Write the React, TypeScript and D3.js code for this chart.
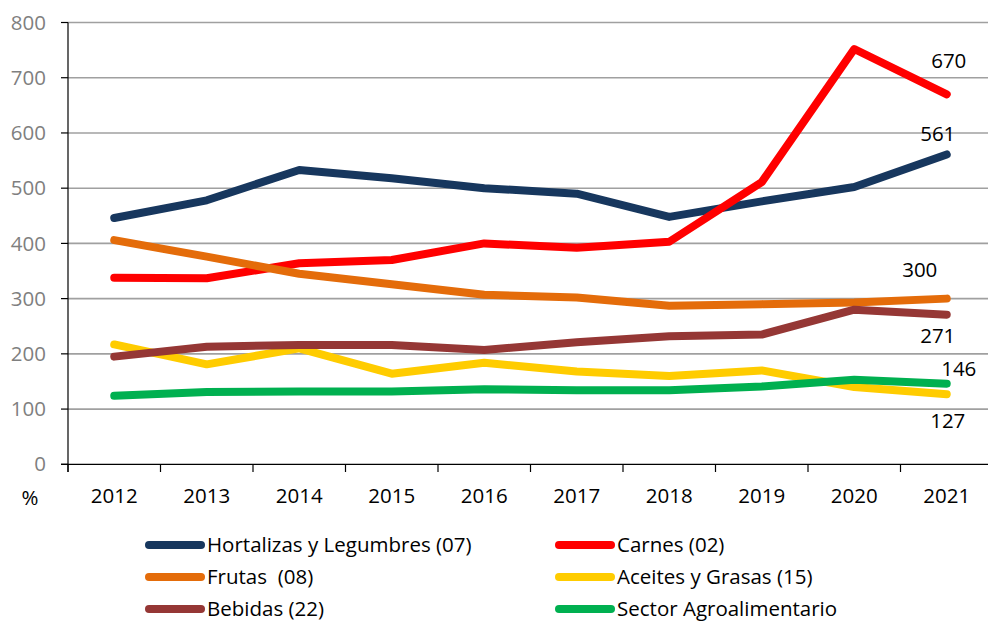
import React from "react";
import * as d3 from "d3";

const years = ["2012", "2013", "2014", "2015", "2016", "2017", "2018", "2019", "2020", "2021"];
const yTicks = [0, 100, 200, 300, 400, 500, 600, 700, 800];

const hortalizas = [446, 478, 533, 518, 500, 490, 448, 476, 502, 561];
const carnes = [338, 337, 364, 370, 400, 392, 403, 511, 752, 670];
const frutas = [406, 376, 345, 326, 307, 302, 287, 290, 293, 300];
const aceites = [217, 181, 210, 164, 184, 168, 160, 170, 140, 127];
const bebidas = [195, 213, 216, 216, 207, 221, 232, 235, 280, 271];
const sector = [124, 131, 132, 132, 136, 134, 134, 141, 153, 146];

const seriesNames = [
  "Hortalizas y Legumbres (07)",
  "Carnes (02)",
  "Frutas  (08)",
  "Aceites y Grasas (15)",
  "Bebidas (22)",
  "Sector Agroalimentario",
];
const seriesValues = [hortalizas, carnes, frutas, aceites, bebidas, sector];
const seriesColors = ["#17375E", "#FF0000", "#E46C0A", "#FFCC00", "#953735", "#00B050"];

// end labels: offset from last point (dx = center shift, dy = baseline shift)
const endLabelOffsets = [
  { dx: -9, dy: -13 },
  { dx: 2, dy: -26 },
  { dx: -27, dy: -22 },
  { dx: 1, dy: 34 },
  { dx: -9, dy: 28 },
  { dx: 12, dy: -8 },
];

const W = 988;
const H = 621;
const FONT = "'Open Sans', sans-serif";

export default function App() {
  const left = 68;
  const bandW = 92.5;
  const x = d3
    .scaleBand<string>()
    .domain(years)
    .range([left, left + bandW * years.length]);
  const y = d3.scaleLinear().domain([0, 800]).range([464.3, 22.5]);
  const cx = (yr: string) => (x(yr) as number) + x.bandwidth() / 2;

  const line = d3
    .line<number>()
    .x((_, i) => cx(years[i]))
    .y((v) => y(v));

  const legendCols = [145, 555];
  const legendRows = [545, 577, 609];

  return (
    <svg
      width={W}
      height={H}
      style={{ position: "absolute", left: 0, top: 0, display: "block", background: "#fff" }}
      fontFamily={FONT}
    >
      {/* gridlines */}
      {yTicks.slice(1).map((t) => (
        <line key={t} x1={left} x2={W} y1={y(t)} y2={y(t)} stroke="#A0A0A0" strokeWidth={1.6} />
      ))}
      {/* y axis */}
      <line x1={left} x2={left} y1={y(800)} y2={472} stroke="#000" strokeWidth={1.2} />
      {yTicks.map((t) => (
        <g key={t}>
          <line x1={61} x2={left} y1={y(t)} y2={y(t)} stroke="#000" strokeWidth={1.2} />
          <text x={46} y={y(t)} dy="0.35em" textAnchor="end" fontSize={20.5} fill="#7F7F7F">
            {t}
          </text>
        </g>
      ))}
      {/* x axis */}
      <line x1={61} x2={W} y1={y(0)} y2={y(0)} stroke="#000" strokeWidth={1.2} />
      {years.map((yr) => (
        <line
          key={"t" + yr}
          x1={x(yr) as number}
          x2={x(yr) as number}
          y1={y(0)}
          y2={472}
          stroke="#000"
          strokeWidth={1.2}
        />
      ))}
      {years.map((yr) => (
        <text key={yr} x={cx(yr)} y={503} textAnchor="middle" fontSize={20.5} fill="#000">
          {yr}
        </text>
      ))}
      <text x={30} y={505} textAnchor="middle" fontSize={20.5} fill="#000">
        %
      </text>

      {/* series */}
      {seriesValues.map((vals, i) => (
        <path
          key={seriesNames[i]}
          d={line(vals) as string}
          fill="none"
          stroke={seriesColors[i]}
          strokeWidth={8}
          strokeLinecap="round"
          strokeLinejoin="round"
        />
      ))}

      {/* end labels */}
      {seriesValues.map((vals, i) => {
        const last = vals[vals.length - 1];
        const px = cx(years[years.length - 1]);
        const py = y(last);
        return (
          <text
            key={"l" + i}
            x={px + endLabelOffsets[i].dx}
            y={py + endLabelOffsets[i].dy}
            textAnchor="middle"
            fontSize={20.5}
            fill="#000"
          >
            {last}
          </text>
        );
      })}

      {/* legend */}
      {seriesNames.map((name, i) => {
        const lx = legendCols[i % 2];
        const ly = legendRows[Math.floor(i / 2)];
        return (
          <g key={"lg" + i}>
            <line
              x1={lx + 4}
              x2={lx + 56}
              y1={ly}
              y2={ly}
              stroke={seriesColors[i]}
              strokeWidth={8}
              strokeLinecap="round"
            />
            <text x={lx + 62} y={ly} dy="0.35em" fontSize={20.5} fill="#000" style={{ whiteSpace: "pre" }}>
              {name}
            </text>
          </g>
        );
      })}
    </svg>
  );
}
